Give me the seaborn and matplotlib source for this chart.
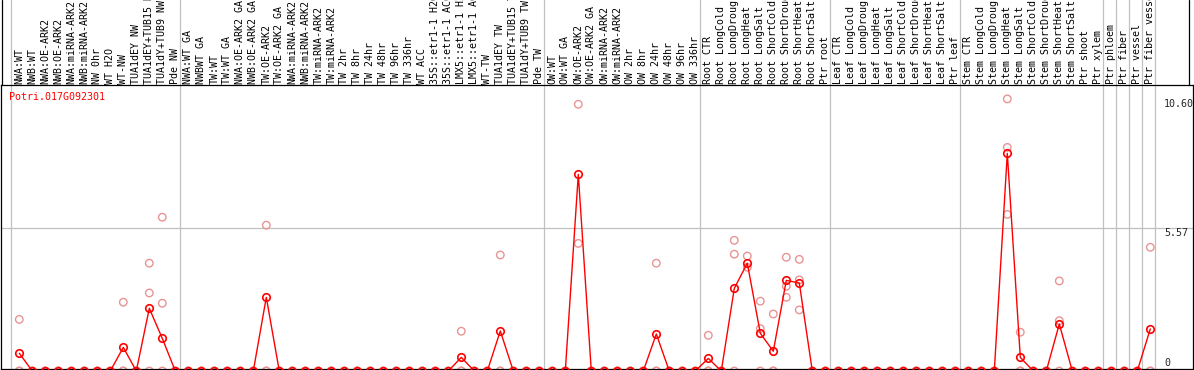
import numpy as np
import pandas as pd
import matplotlib
matplotlib.use("Agg")
import matplotlib.pyplot as plt
import matplotlib.transforms as mtrans
from matplotlib.lines import Line2D
import seaborn as sns

# ---------------- data ----------------
title = "Potri.017G092301"

labels_nw = ["NWA:WT", "NWB:WT", "NWA:OE-ARK2", "NWB:OE-ARK2", "NWA:miRNA-ARK2",
             "NWB:miRNA-ARK2", "NW 0hr", "WT H2O", "WT-NW", "TUA1dEY NW",
             "TUA1dEY+TUB15 NW", "TUA1dY+TUB9 NW", "Pde NW"]
labels_tw = ["NWA:WT GA", "NWBWT GA", "TW:WT", "TW:WT GA", "NWA:OE-ARK2 GA",
             "NWB:OE-ARK2 GA", "TW:OE-ARK2", "TW:OE-ARK2 GA", "NWA:miRNA-ARK2",
             "NWB:miRNA-ARK2", "TW:miRNA-ARK2", "TW:miRNA-ARK2", "TW 2hr", "TW 8hr",
             "TW 24hr", "TW 48hr", "TW 96hr", "TW 336hr", "WT ACC", "35S::etr1-1 H2O",
             "35S::etr1-1 ACC", "LMX5::etr1-1 H2O", "LMX5::etr1-1 ACC", "WT-TW",
             "TUA1dEY TW", "TUA1dEY+TUB15 TW", "TUA1dY+TUB9 TW", "Pde TW"]
labels_ow = ["OW:WT", "OW:WT GA", "OW:OE-ARK2", "OW:OE-ARK2 GA", "OW:miRNA-ARK2",
             "OW:miRNA-ARK2", "OW 2hr", "OW 8hr", "OW 24hr", "OW 48hr", "OW 96hr",
             "OW 336hr"]
labels_root = ["Root CTR", "Root LongCold", "Root LongDrought", "Root LongHeat",
               "Root LongSalt", "Root ShortCold", "Root ShortDrought", "Root ShortHeat",
               "Root ShortSalt", "Ptr root"]
labels_leaf = ["Leaf CTR", "Leaf LongCold", "Leaf LongDrought", "Leaf LongHeat",
               "Leaf LongSalt", "Leaf ShortCold", "Leaf ShortDrought", "Leaf ShortHeat",
               "Leaf ShortSalt", "Ptr leaf"]
labels_stem = ["Stem CTR", "Stem LongCold", "Stem LongDrought", "Stem LongHeat",
               "Stem LongSalt", "Stem ShortCold", "Stem ShortDrought", "Stem ShortHeat",
               "Stem ShortSalt", "Ptr shoot", "Ptr xylem", "Ptr phloem", "Ptr fiber",
               "Ptr vessel", "Ptr fiber vessel"]

# mean expression per sample (group by group)
mean_nw = [0.69, 0, 0, 0, 0, 0, 0, 0, 0.92, 0, 2.44, 1.27, 0]
mean_tw = [0, 0, 0, 0, 0, 0, 2.87, 0, 0, 0, 0, 0, 0, 0, 0, 0, 0, 0, 0, 0,
           0, 0.53, 0, 0, 1.56, 0, 0, 0]
mean_ow = [0, 0, 7.66, 0, 0, 0, 0, 0, 1.44, 0, 0, 0]
mean_root = [0.49, 0, 3.22, 4.20, 1.47, 0.77, 3.53, 3.43, 0, 0]
mean_leaf = [0, 0, 0, 0, 0, 0, 0, 0, 0, 0]
mean_stem = [0, 0, 0, 8.48, 0.53, 0, 0, 1.83, 0, 0, 0, 0, 0, 0, 1.64]

# replicate values (NaN = no replicate)
nan = np.nan
rep1_nw = [2.01, 0, 0, 0, 0, 0, 0, 0, 2.68, 0, 4.20, 5.99, 0]
rep1_tw = [0, 0, 0, 0, 0, 0, 5.68, 0, 0, 0, 0, 0, 0, 0, 0, 0, 0, 0, 0, 0,
           0, 1.55, 0, 0, 4.52, 0, 0, 0]
rep1_ow = [0, 0, 10.39, 0, 0, 0, 0, 0, 4.20, 0, 0, 0]
rep1_root = [1.39, 0, 5.09, 4.48, 2.72, 2.22, 4.43, 4.35, 0, 0]
rep1_leaf = [0, 0, 0, 0, 0, 0, 0, 0, 0, 0]
rep1_stem = [0, 0, 0, 10.60, 1.51, 0, 0, 3.51, 0, 0, 0, 0, 0, 0, 4.82]

rep2_nw = [0, 0, 0, 0, 0, 0, 0, 0, 0, 0, 3.04, 2.64, 0]
rep2_tw = [0] * 28
rep2_ow = [0, 0, 4.97, 0, 0, 0, 0, 0, 0, 0, 0, 0]
rep2_root = [0, 0, 4.55, 4.04, 1.65, 0, 3.30, 3.55, 0, 0]
rep2_leaf = [0] * 10
rep2_stem = [0, 0, 0, 8.71, 0, 0, 0, 1.96, 0, 0, 0, 0, 0, 0, 0]

rep3_nw = [0] * 13
rep3_tw = [0] * 28
rep3_ow = [0, 0, nan, 0, 0, 0, 0, 0, 0, 0, 0, 0]
rep3_root = [0, 0, 0, nan, 0, 0, 2.87, 2.38, 0, 0]
rep3_leaf = [0] * 10
rep3_stem = [0, 0, 0, 6.10, 0, 0, 0, 0, 0, 0, 0, 0, 0, 0, 0]

y_ticks = [0, 5.57, 10.60]
y_tick_labels = ["0", "5.57", "10.60"]
# group separators: indices of last sample of each block
separators = [-1, 12, 40, 52, 62, 72, 83, 84, 85, 86, 87]

labels = labels_nw + labels_tw + labels_ow + labels_root + labels_leaf + labels_stem
means = mean_nw + mean_tw + mean_ow + mean_root + mean_leaf + mean_stem
rep1 = rep1_nw + rep1_tw + rep1_ow + rep1_root + rep1_leaf + rep1_stem
rep2 = rep2_nw + rep2_tw + rep2_ow + rep2_root + rep2_leaf + rep2_stem
rep3 = rep3_nw + rep3_tw + rep3_ow + rep3_root + rep3_leaf + rep3_stem

n = len(labels)
idx = np.arange(n)
df_mean = pd.DataFrame({"idx": idx, "value": means})
df_rep = pd.concat([pd.DataFrame({"idx": idx, "value": r}) for r in (rep1, rep2, rep3)])
df_rep = df_rep.dropna()

# ---------------- style ----------------
sns.set_style("white")
plt.rcParams["font.family"] = ["DejaVu Sans Mono", "DejaVu Sans"]

RED = "#FF0000"
PINK = "#E89494"
GRID = "#C0C0C0"
FS = 7.2
MS = 5.4  # marker size in points

W, H = 1194, 370
fig = plt.figure(figsize=(W / 100, H / 100), dpi=100)
L, R, T, B = 1, 1193, 85, 369
ax = fig.add_axes([L / W, 1 - B / H, (R - L) / W, (B - T) / H])

# pixel mapping: x px = 19.3 + 13*i ; y px = 371 - 25.67*v
ax.set_xlim((L - 19.3) / 13, (R - 19.3) / 13)
ax.set_ylim((371 - B) / 25.67, (371 - T) / 25.67)

# grid lines
for s in separators:
    ax.axvline(s + 0.5 - 2 / 13, ymin=0, ymax=B / (B - T), color=GRID, lw=0.9,
               clip_on=False, zorder=0)
ax.axhline(5.57, color=GRID, lw=0.9, zorder=0)

# replicates
sns.scatterplot(data=df_rep, x="idx", y="value", ax=ax, marker="o", s=MS ** 2,
                color=PINK, linewidth=1.0, zorder=2, legend=False)
coll = ax.collections[-1]
coll.set_facecolor("none")
coll.set_edgecolor(PINK)

# mean line
sns.lineplot(data=df_mean, x="idx", y="value", ax=ax, color=RED, lw=1.0,
             marker="o", markersize=MS, markerfacecolor="none",
             markeredgecolor=RED, markeredgewidth=1.2, errorbar=None, zorder=3)

ax.set_xticks([])
ax.set_yticks([])
ax.set_xlabel("")
ax.set_ylabel("")
for sp in ax.spines.values():
    sp.set_visible(True)
    sp.set_color("black")
    sp.set_linewidth(0.9)

# sample labels above the plot
trans = mtrans.blended_transform_factory(ax.transData, fig.transFigure)
for i, lab in enumerate(labels):
    ax.text(i, 1 - 83.5 / H, lab, transform=trans, rotation=90, ha="center",
            va="bottom", fontsize=FS, color="black", clip_on=False)

# right-hand value labels
for v, t in zip(y_ticks, y_tick_labels):
    if v == 0:
        ax.text((1164 - L) / (R - L), 0.004, t, transform=mtrans.blended_transform_factory(
            ax.transAxes, ax.transAxes), ha="left", va="bottom", fontsize=FS)
    else:
        ax.text((1164 - L) / (R - L), v, t, transform=mtrans.blended_transform_factory(
            ax.transAxes, ax.transData), ha="left", va="top", fontsize=FS)

# title
fig.text(9 / W, 1 - 97 / H, title, color=RED, ha="left", va="center", fontsize=FS)

# frame lines in label area
fig.add_artist(Line2D([1.5 / W, 1.5 / W], [1 - T / H, 1], color="black", lw=0.9))
fig.add_artist(Line2D([1188.5 / W, 1188.5 / W], [1 - T / H, 1], color="black", lw=0.9))

fig.savefig("out.png", dpi=100)
